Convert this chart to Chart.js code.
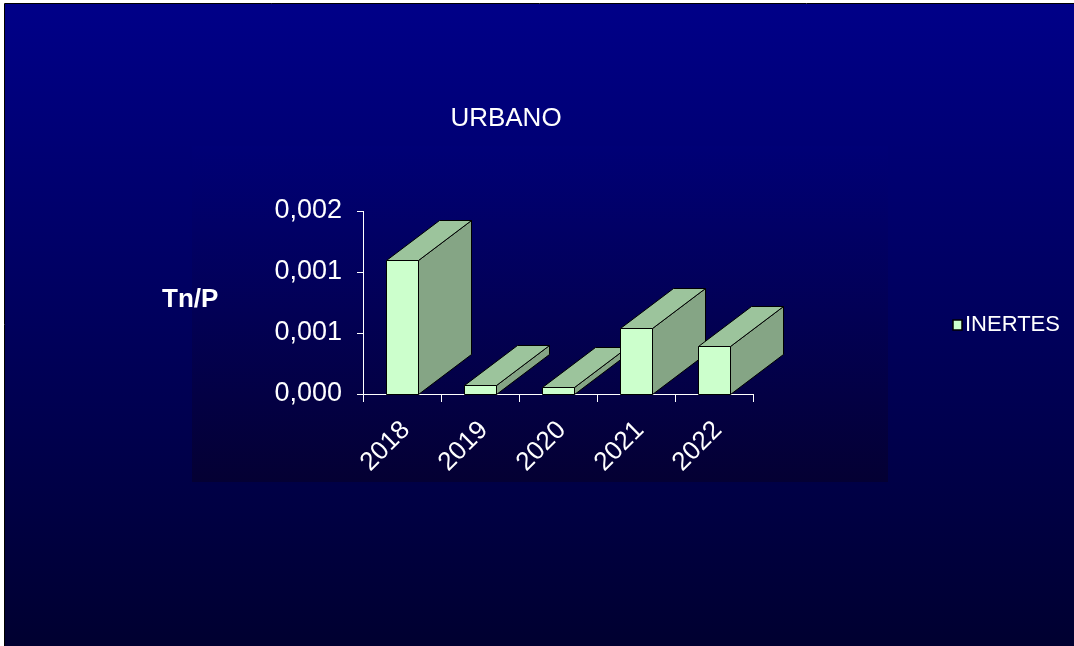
<!DOCTYPE html>
<html>
<head>
<meta charset="utf-8">
<script src="https://cdn.jsdelivr.net/npm/chart.js@4/dist/chart.umd.min.js"></script>
<style>
  html, body { margin: 0; padding: 0; background: #fff; }
  #wrap { width: 1074px; height: 646px; }
</style>
</head>
<body>
<div id="wrap"><canvas id="urbano"></canvas></div>
<script>
// datos
const categories = ['2018', '2019', '2020', '2021', '2022'];
const inertes = [0.001464, 0.000098, 0.000073, 0.000718, 0.000528];
const seriesName = 'INERTES';
const chartTitle = 'URBANO';
const yTitle = 'Tn/P';

const FONT = '"Liberation Sans", Arial, sans-serif';
const DEPTH_X = 53;
const DEPTH_Y = -40;

// fondo degradado (diapositiva + area del grafico)
const backgroundPlugin = {
  id: 'fondo',
  beforeDraw(chart) {
    const ctx = chart.ctx;
    const w = chart.width, h = chart.height;
    ctx.save();
    ctx.fillStyle = '#ffffff';
    ctx.fillRect(0, 0, w, h);
    let g = ctx.createLinearGradient(0, 4, 0, h);
    g.addColorStop(0, '#000088');
    g.addColorStop(1, '#000030');
    ctx.fillStyle = g;
    ctx.fillRect(5, 4, w - 5, h - 4);
    ctx.strokeStyle = '#000000';
    ctx.lineWidth = 1;
    ctx.beginPath();
    ctx.moveTo(4.5, h);
    ctx.lineTo(4.5, 3.5);
    ctx.lineTo(w, 3.5);
    ctx.stroke();
    // area del grafico
    g = ctx.createLinearGradient(0, 146, 0, 482);
    g.addColorStop(0, '#000076');
    g.addColorStop(1, '#040033');
    ctx.fillStyle = g;
    ctx.fillRect(192, 146, 696, 336);
    ctx.restore();
  }
};

// barras 3D: lateral, tapa y frente, de izquierda a derecha
const bars3dPlugin = {
  id: 'bars3d',
  afterDatasetsDraw(chart) {
    const ctx = chart.ctx;
    const meta = chart.getDatasetMeta(0);
    ctx.save();
    ctx.lineWidth = 1;
    ctx.strokeStyle = '#000000';
    ctx.lineJoin = 'round';
    meta.data.forEach(bar => {
      const p = bar.getProps(['x', 'y', 'base', 'width'], true);
      const l = Math.round(p.x - p.width / 2) + 0.5;
      const r = Math.round(p.x + p.width / 2) + 0.5;
      const t = Math.round(p.y) + 0.5;
      const b = Math.round(p.base) + 0.5;
      // lateral
      ctx.fillStyle = '#85a585';
      ctx.beginPath();
      ctx.moveTo(r, b);
      ctx.lineTo(r + DEPTH_X, b + DEPTH_Y);
      ctx.lineTo(r + DEPTH_X, t + DEPTH_Y);
      ctx.lineTo(r, t);
      ctx.closePath();
      ctx.fill();
      ctx.stroke();
      // tapa
      ctx.fillStyle = '#9cc49c';
      ctx.beginPath();
      ctx.moveTo(l, t);
      ctx.lineTo(l + DEPTH_X, t + DEPTH_Y);
      ctx.lineTo(r + DEPTH_X, t + DEPTH_Y);
      ctx.lineTo(r, t);
      ctx.closePath();
      ctx.fill();
      ctx.stroke();
      // frente
      ctx.fillStyle = '#ccffcc';
      ctx.fillRect(l, t, r - l, b - t);
      ctx.strokeRect(l, t, r - l, b - t);
    });
    ctx.restore();
  }
};

// textos: titulo, eje Y y leyenda
const textsPlugin = {
  id: 'textos',
  afterDraw(chart) {
    const ctx = chart.ctx;
    ctx.save();
    ctx.fillStyle = '#ffffff';
    ctx.textBaseline = 'middle';
    ctx.textAlign = 'center';
    ctx.font = '26px ' + FONT;
    ctx.fillText(chartTitle, 506, 119);
    ctx.textAlign = 'left';
    ctx.font = 'bold 26px ' + FONT;
    ctx.fillText(yTitle, 162, 300);
    // leyenda
    ctx.fillStyle = '#ccffcc';
    ctx.fillRect(953, 320, 9, 10);
    ctx.strokeStyle = '#000000';
    ctx.lineWidth = 1.5;
    ctx.strokeRect(953, 320, 9, 10);
    ctx.fillStyle = '#ffffff';
    ctx.font = '22px ' + FONT;
    ctx.fillText(chart.data.datasets[0].label, 965, 325);
    ctx.restore();
  }
};

new Chart(document.getElementById('urbano'), {
  type: 'bar',
  data: {
    labels: categories,
    datasets: [{
      label: seriesName,
      data: inertes,
      backgroundColor: '#ccffcc',
      borderColor: '#000000',
      borderWidth: 1,
      barPercentage: 0.4,
      categoryPercentage: 1
    }]
  },
  options: {
    responsive: true,
    maintainAspectRatio: false,
    animation: false,
    layout: {
      padding: { left: 200, right: 321, top: 211, bottom: 162 }
    },
    plugins: {
      legend: { display: false },
      title: { display: false },
      tooltip: { enabled: false }
    },
    scales: {
      x: {
        afterFit(scale) { scale.height = 90; },
        grid: {
          drawOnChartArea: false,
          color: '#ffffff',
          tickLength: 8,
          offset: true
        },
        border: { color: '#ffffff', width: 1 },
        ticks: {
          color: '#ffffff',
          font: { family: FONT, size: 26 },
          minRotation: 45,
          maxRotation: 45,
          padding: 13,
          labelOffset: 4
        }
      },
      y: {
        min: 0,
        max: 0.002,
        afterFit(scale) { scale.width = 163; },
        grid: {
          drawOnChartArea: false,
          color: '#ffffff',
          tickLength: 6
        },
        border: { color: '#ffffff', width: 1 },
        ticks: {
          count: 4,
          color: '#ffffff',
          font: { family: FONT, size: 27 },
          padding: 15,
          callback: v => v.toFixed(3).replace('.', ',')
        }
      }
    }
  },
  plugins: [backgroundPlugin, bars3dPlugin, textsPlugin]
});
</script>
</body>
</html>
